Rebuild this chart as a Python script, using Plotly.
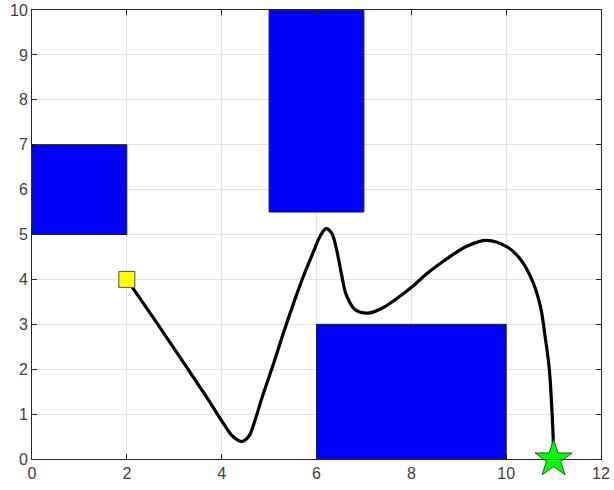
import plotly.graph_objects as go

# Obstacles: (x0, x1, y0, y1)
obs_x0 = [0, 5, 6]
obs_x1 = [2, 7, 10]
obs_y0 = [5, 5.5, 0]
obs_y1 = [7, 10, 3]

# Path
path_x = [2.0, 2.6, 3.2, 3.7, 4.05, 4.24, 4.42, 4.57, 4.7, 4.84, 5.08, 5.3, 5.51, 5.72,
          5.93, 6.07, 6.2, 6.32, 6.42, 6.53, 6.63, 6.81, 7.09, 7.4, 7.7, 8.01, 8.33, 8.75,
          9.17, 9.59, 10.01, 10.3, 10.54, 10.72, 10.82, 10.91, 10.96, 10.99, 11.0]
path_y = [4.0, 3.08, 2.14, 1.35, 0.77, 0.5, 0.39, 0.5, 0.85, 1.33, 2.08, 2.8, 3.45, 4.06,
          4.6, 4.95, 5.13, 5.03, 4.68, 4.1, 3.65, 3.33, 3.25, 3.37, 3.58, 3.83, 4.13, 4.46,
          4.74, 4.87, 4.73, 4.45, 4.0, 3.41, 2.74, 2.0, 1.18, 0.5, 0.0]

start = (2, 4)
goal = (11, 0)

x_ticks = [0, 2, 4, 6, 8, 10, 12]
y_ticks = list(range(0, 11))

fig = go.Figure()

for x0, x1, y0, y1 in zip(obs_x0, obs_x1, obs_y0, obs_y1):
    fig.add_trace(go.Scatter(
        x=[x0, x1, x1, x0, x0], y=[y0, y0, y1, y1, y0],
        mode="lines", fill="toself", fillcolor="#0000ff",
        line=dict(color="#1a1a40", width=1), hoverinfo="skip", showlegend=False))

fig.add_trace(go.Scatter(x=path_x, y=path_y, mode="lines",
                         line=dict(color="black", width=3.2, shape="spline", smoothing=1.0),
                         showlegend=False))

fig.add_trace(go.Scatter(x=[start[0]], y=[start[1]], mode="markers",
                         marker=dict(symbol="square", size=16, color="#ffff00",
                                     line=dict(color="#4d4d66", width=1)),
                         showlegend=False, cliponaxis=False))
fig.add_trace(go.Scatter(x=[goal[0]], y=[goal[1]], mode="markers",
                         marker=dict(symbol="star", size=28, color="#00ff00",
                                     line=dict(color="#206020", width=1)),
                         showlegend=False, cliponaxis=False))

axis_common = dict(showgrid=True, gridcolor="#e3e3e3", gridwidth=1,
                   showline=True, linecolor="#262626", linewidth=1, mirror="ticks",
                   ticks="inside", ticklen=5, tickcolor="#262626", zeroline=False,
                   automargin=False,
                   tickfont=dict(family="Liberation Sans, Arial", size=16, color="#404040"))

fig.update_xaxes(range=[0, 12], tickvals=x_ticks, **axis_common)
fig.update_yaxes(range=[0, 10], tickvals=y_ticks, **axis_common)

fig.update_layout(width=614, height=490, margin=dict(l=32, r=13, t=10, b=31),
                  plot_bgcolor="white", paper_bgcolor="white")

fig.write_html("out.html", config={"displayModeBar": False},
               post_script="document.body.style.margin='0px';")
